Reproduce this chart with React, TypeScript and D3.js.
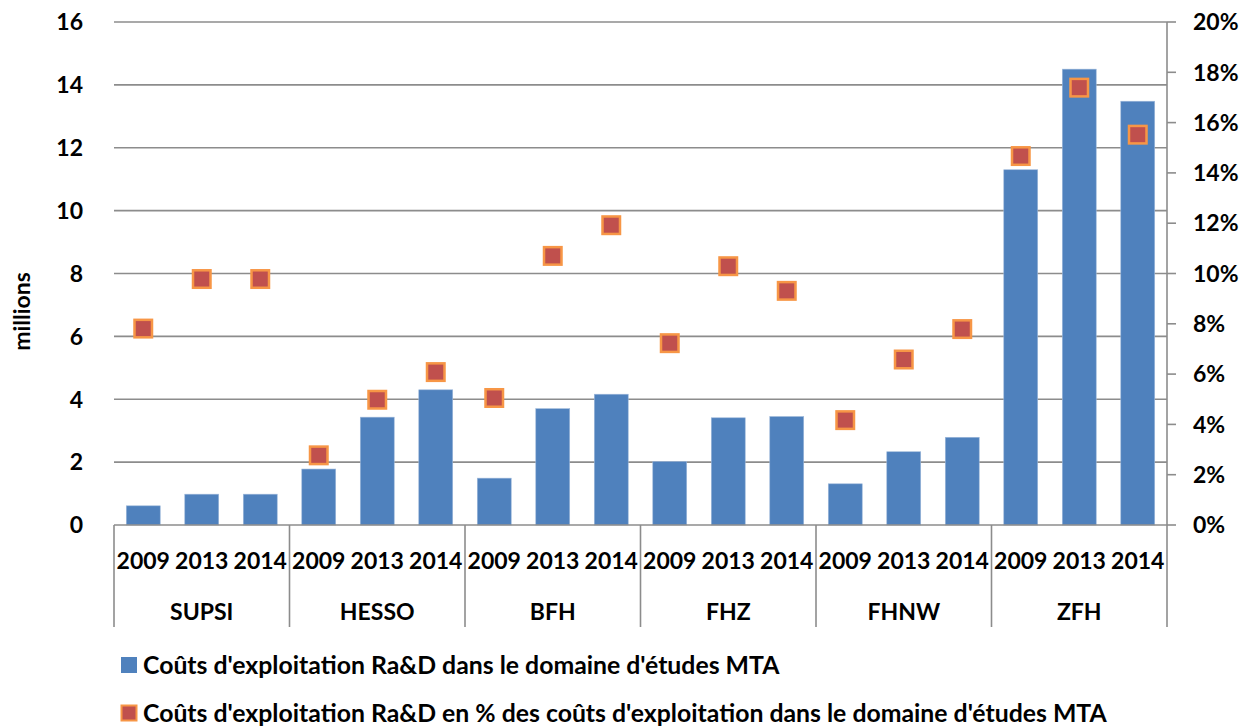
import React from "react";
import * as d3 from "d3";

const groups = ["SUPSI", "HESSO", "BFH", "FHZ", "FHNW", "ZFH"];
const years = ["2009", "2013", "2014"];
// millions CHF
const costs = [
  [0.61, 0.98, 0.98],
  [1.78, 3.43, 4.3],
  [1.49, 3.7, 4.16],
  [2.02, 3.41, 3.45],
  [1.31, 2.33, 2.79],
  [11.3, 14.5, 13.48],
];
// percent
const shares = [
  [7.81, 9.78, 9.78],
  [2.77, 4.98, 6.08],
  [5.05, 10.7, 11.92],
  [7.23, 10.29, 9.31],
  [4.17, 6.58, 7.79],
  [14.67, 17.39, 15.52],
];
const leftTicks = [0, 2, 4, 6, 8, 10, 12, 14, 16];
const rightTicks = [0, 2, 4, 6, 8, 10, 12, 14, 16, 18, 20];
const legend1 = "Coûts d'exploitation Ra&D dans le domaine d'études MTA";
const legend2 = "Coûts d'exploitation Ra&D en % des coûts d'exploitation dans le domaine d'études MTA";
const yLabel = "millions";

const W = 1250;
const H = 726;
const L = 114;
const R = 1167;
const T = 22;
const B = 525;
const FONT = "Lato, 'Noto Sans', sans-serif";
const BAR = "#4F81BD";
const MFILL = "#C0504D";
const MSTROKE = "#F79646";
const GRID = "#8C8C8C";

export default function App() {
  const items = groups.flatMap((g, gi) =>
    years.map((y, yi) => ({ key: `${g}-${y}`, g, y, gi, yi, v: costs[gi][yi], p: shares[gi][yi] }))
  );
  const x = d3
    .scaleBand<string>()
    .domain(items.map((d) => d.key))
    .range([L, R])
    .paddingInner(0.42)
    .paddingOuter(0.21);
  const xSlot = d3.scaleBand<string>().domain(items.map((d) => d.key)).range([L, R]);
  const xg = d3.scaleBand<string>().domain(groups).range([L, R]);
  const yL = d3.scaleLinear().domain([0, 16]).range([B, T]);
  const yR = d3.scaleLinear().domain([0, 20]).range([B, T]);
  const ms = 17.5;

  return (
    <svg
      width={W}
      height={H}
      style={{ position: "absolute", left: 0, top: 0, background: "#fff" }}
      fontFamily={FONT}
      fontWeight={700}
    >
      {/* gridlines */}
      {leftTicks.slice(1).map((t) => (
        <line key={t} x1={L} x2={R} y1={yL(t)} y2={yL(t)} stroke={GRID} strokeWidth={1.6} />
      ))}
      {/* left tick labels */}
      {leftTicks.map((t) => (
        <text key={t} x={83} y={yL(t)} dy="0.36em" textAnchor="end" fontSize={23} fill="#000">
          {t}
        </text>
      ))}
      {/* y label */}
      <text
        transform={`translate(22,${(T + B) / 2 + 38}) rotate(-90)`}
        textAnchor="middle"
        dy="0.36em"
        fontSize={23}
        fill="#000"
      >
        {yLabel}
      </text>
      {/* bars */}
      {items.map((d) => (
        <rect
          key={d.key}
          x={x(d.key)}
          y={yL(d.v)}
          width={x.bandwidth()}
          height={B - yL(d.v)}
          fill={BAR}
          stroke="#9DB8DA"
          strokeWidth={0.6}
        />
      ))}
      {/* markers */}
      {items.map((d) => {
        const cx = (x(d.key) as number) + x.bandwidth() / 2;
        const cy = yR(d.p);
        return (
          <rect
            key={d.key}
            x={cx - ms / 2}
            y={cy - ms / 2}
            width={ms}
            height={ms}
            fill={MFILL}
            stroke={MSTROKE}
            strokeWidth={2.5}
          />
        );
      })}
      {/* right axis */}
      <line x1={R} x2={R} y1={T} y2={B} stroke={GRID} strokeWidth={1.6} />
      {rightTicks.map((t) => (
        <g key={t}>
          <line x1={R} x2={R + 9} y1={yR(t)} y2={yR(t)} stroke={GRID} strokeWidth={1.6} />
          <text x={1193} y={yR(t)} dy="0.36em" fontSize={23} fill="#000">
            {t}%
          </text>
        </g>
      ))}
      {/* category axis */}
      <line x1={L} x2={R} y1={B} y2={B} stroke={GRID} strokeWidth={1.6} />
      {[...groups.map((g) => xg(g) as number), R].map((sx, i) => (
        <line key={i} x1={sx} x2={sx} y1={B} y2={627} stroke={GRID} strokeWidth={1.6} />
      ))}
      {items.map((d) => (
        <text
          key={d.key}
          x={(xSlot(d.key) as number) + xSlot.bandwidth() / 2}
          y={561}
          dy="0.36em"
          textAnchor="middle"
          fontSize={23}
          fill="#000"
        >
          {d.y}
        </text>
      ))}
      {groups.map((g) => (
        <text
          key={g}
          x={(xg(g) as number) + xg.bandwidth() / 2}
          y={612}
          dy="0.36em"
          textAnchor="middle"
          fontSize={23}
          fill="#000"
        >
          {g}
        </text>
      ))}
      {/* legend */}
      <rect x={121} y={657} width={16} height={16} fill={BAR} />
      <text x={143} y={665} dy="0.36em" fontSize={24.8} fill="#000">
        {legend1}
      </text>
      <rect x={121.5} y={705.5} width={15} height={15} fill={MFILL} stroke={MSTROKE} strokeWidth={2} />
      <text x={143} y={713} dy="0.36em" fontSize={24.8} fill="#000">
        {legend2}
      </text>
    </svg>
  );
}
